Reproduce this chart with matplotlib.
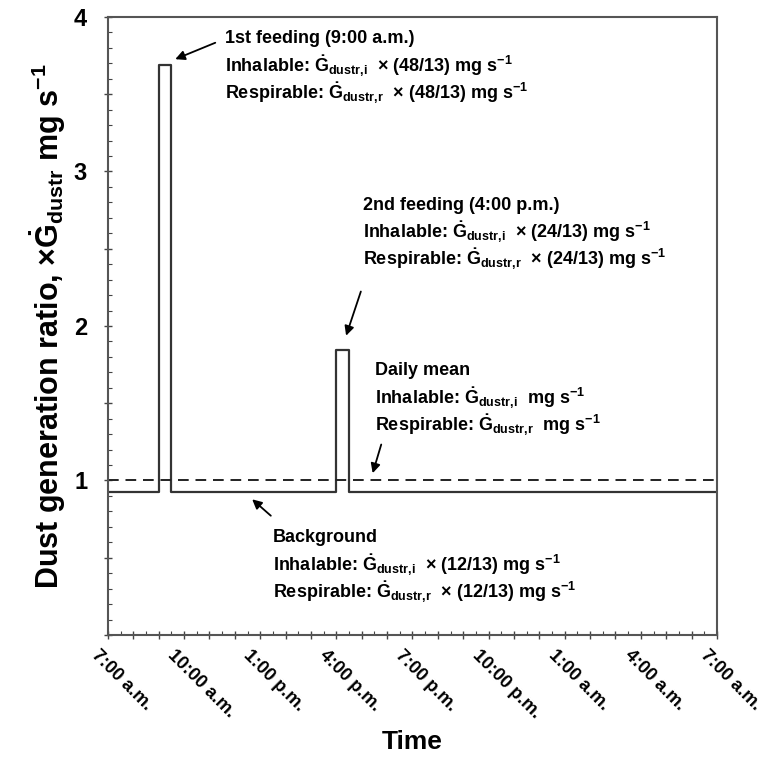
import numpy as np
import matplotlib
matplotlib.use('Agg')
import matplotlib.pyplot as plt
from matplotlib.ticker import FixedLocator, MultipleLocator
from matplotlib.transforms import ScaledTranslation

plt.rcParams['font.family'] = ['Liberation Sans', 'DejaVu Sans']
plt.rcParams['font.weight'] = 'bold'
plt.rcParams['axes.labelweight'] = 'bold'
plt.rcParams['mathtext.fontset'] = 'custom'
plt.rcParams['mathtext.rm'] = 'Liberation Sans:bold'
plt.rcParams['mathtext.it'] = 'Liberation Sans:bold'
plt.rcParams['mathtext.bf'] = 'Liberation Sans:bold'

# hours after 7:00 a.m.
edges = [0, 2.0, 2.5, 9.0, 9.5, 24]
ratio = [12/13, 48/13, 12/13, 24/13, 12/13, 12/13]
daily_mean = 1.0

tick_hours = [0, 3, 6, 9, 12, 15, 18, 21, 24]
tick_labels = ['7:00 a.m.', '10:00 a.m.', '1:00 p.m.', '4:00 p.m.', '7:00 p.m.',
               '10:00 p.m.', '1:00 a.m.', '4:00 a.m.', '7:00 a.m.']

G = r'$\dot{G}_{\mathrm{dustr{,}%s}}$'
notes = [
    ('1st feeding (9:00 a.m.)',
     'Inhalable: ' + G % 'i' + r'  $\times$ (48/13) mg s$^{-1}$',
     'Respirable: ' + G % 'r' + r'  $\times$ (48/13) mg s$^{-1}$'),
    ('2nd feeding (4:00 p.m.)',
     'Inhalable: ' + G % 'i' + r'  $\times$ (24/13) mg s$^{-1}$',
     'Respirable: ' + G % 'r' + r'  $\times$ (24/13) mg s$^{-1}$'),
    ('Daily mean',
     'Inhalable: ' + G % 'i' + r'  mg s$^{-1}$',
     'Respirable: ' + G % 'r' + r'  mg s$^{-1}$'),
    ('Background',
     'Inhalable: ' + G % 'i' + r'  $\times$ (12/13) mg s$^{-1}$',
     'Respirable: ' + G % 'r' + r'  $\times$ (12/13) mg s$^{-1}$'),
]

fig = plt.figure(figsize=(7.63, 7.58), dpi=100)
ax = fig.add_axes([0.1415, 0.1623, 0.7982, 0.8153])

ax.step(edges, ratio, where='post', color='#333333', lw=1.6)
ax.axhline(daily_mean, color='#222222', lw=1.4, ls=(0, (5.5, 3.5)))

ax.set_xlim(0, 24)
ax.set_ylim(0, 4)

ax.xaxis.set_major_locator(FixedLocator(np.arange(0, 25)))
ax.xaxis.set_minor_locator(MultipleLocator(0.5))
ax.set_yticks(np.arange(0, 4.01, 0.5))
ax.set_yticklabels(['' if (v % 1 or v == 0) else '%d' % v for v in np.arange(0, 4.01, 0.5)], fontsize=17)
ax.yaxis.set_minor_locator(MultipleLocator(0.1))
ax.tick_params(which='major', direction='inout', length=6, width=1.0, color='#444444')
ax.tick_params(which='minor', direction='in', length=3, width=0.8, color='#444444')
ax.tick_params(axis='x', which='major', pad=10)
ax.tick_params(axis='y', which='major', pad=12)
ax.set_xticklabels([tick_labels[tick_hours.index(h)] if h in tick_hours else '' for h in range(25)],
                   rotation=-45, ha='left', va='center', rotation_mode='anchor', fontsize=13)
shift = ScaledTranslation(-14 / 100, 0, fig.dpi_scale_trans)
for lbl in ax.get_xticklabels():
    lbl.set_transform(lbl.get_transform() + shift)
for s in ax.spines.values():
    s.set_color('#555555')
    s.set_linewidth(1.5)

ax.set_xlabel('Time', fontsize=19, labelpad=6)
ax.set_ylabel(r'Dust generation ratio, $\times\dot{G}_{\mathrm{dustr}}$ mg s$^{-1}$', fontsize=22, labelpad=4)

# annotation blocks: (x, y of first line) in data units
pos = [(4.6, 3.86), (10.05, 2.78), (10.52, 1.71), (6.5, 0.63)]
for (x, y), lines in zip(pos, notes):
    for k, t in enumerate(lines):
        ax.text(x, y - k * 0.175, t, fontsize=13, va='center', ha='left')

arrows = [((4.33, 3.84), (2.55, 3.72)),
          ((10.0, 2.24), (9.35, 1.92)),
          ((10.8, 1.25), (10.4, 1.03)),
          ((6.5, 0.76), (5.6, 0.89))]
for tail, head in arrows:
    ax.annotate('', xy=head, xytext=tail,
                arrowprops=dict(arrowstyle='-|>', color='black', lw=1.3, mutation_scale=14))

fig.savefig('out.png', dpi=100)
